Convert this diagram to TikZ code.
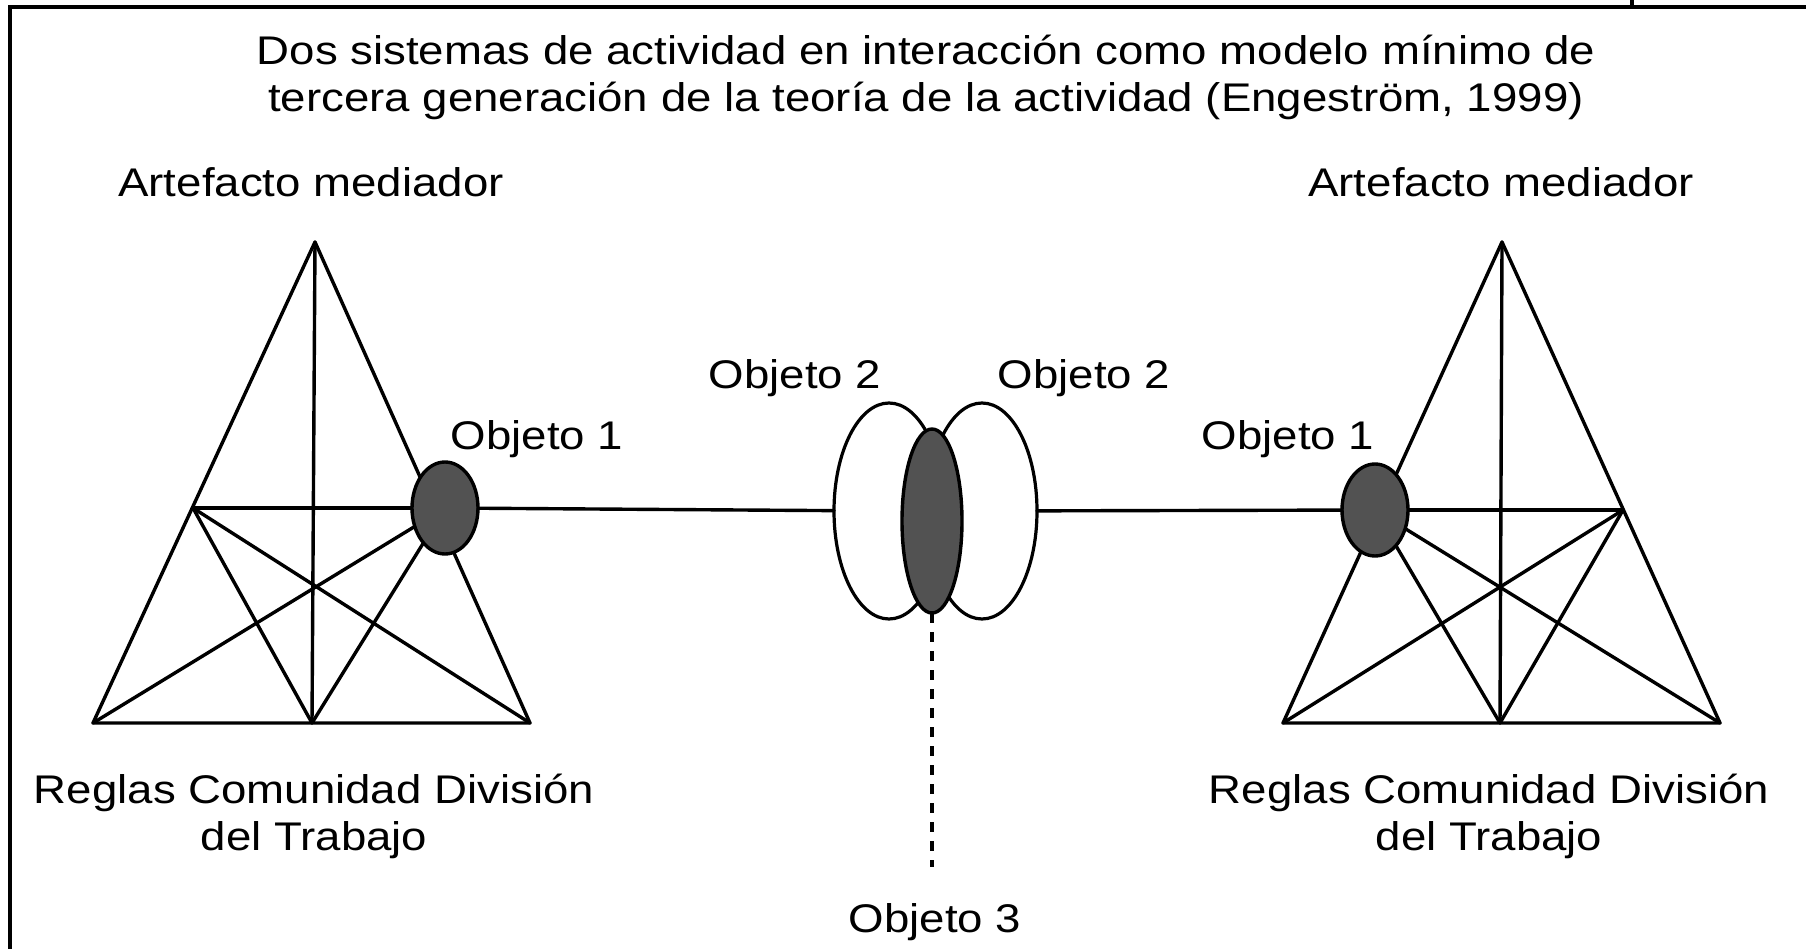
\documentclass[tikz,border=0pt]{standalone}
\usepackage{fontspec}
\setmainfont{Liberation Sans}[FakeStretch=1.14]
\usetikzlibrary{shapes.geometric}
\pgfdeclarelayer{bg}
\pgfdeclarelayer{paper}
\pgfsetlayers{paper,bg,main}
\begin{document}
\begin{tikzpicture}[x=1pt,y=-1pt,
  ln/.style={line width=3.4pt, line cap=round, line join=round},
  frame/.style={line width=3.4pt},
  lbl/.style={font=\fontsize{40}{47}\selectfont, inner sep=0pt, align=center},
  dark/.style={ellipse, draw, line width=3.4pt, fill=black!68, inner sep=0pt, outer sep=0pt},
  open/.style={ellipse, draw, line width=3.2pt, inner sep=0pt, outer sep=0pt}]
\useasboundingbox (0,0) rectangle (1806,949);
\begin{pgfonlayer}{paper}
  \fill[white] (0,0) rectangle (1806,949);
\end{pgfonlayer}

% frame
\coordinate (fbl) at (10,949);
\coordinate (ftl) at (10,7);
\coordinate (ftr) at (1806,7);
\draw[frame] (fbl) -- (ftl) -- (ftr);
\coordinate (tk1) at (1632,0);
\coordinate (tk2) at (1632,7);
\draw[frame] (tk1) -- (tk2);

% left triangle points
\coordinate (LA) at (315,242);
\coordinate (LBL) at (93,723);
\coordinate (LBR) at (530,723);
\coordinate (LBM) at (312,723);
\coordinate (LLM) at (193,508);
\node[dark, minimum width=66pt, minimum height=92pt] (LO) at (445,508) {};

% center ellipses
\node[open, minimum width=110pt, minimum height=216pt] (CL) at (889,511) {};
\node[open, minimum width=110pt, minimum height=216pt] (CR) at (982,511) {};
\node[dark, minimum width=60pt, minimum height=184pt] (CD) at (932,521) {};
\coordinate (dashend) at (932,867);

% right triangle points
\coordinate (RA) at (1502,242);
\coordinate (RBL) at (1283,723);
\coordinate (RBR) at (1720,723);
\coordinate (RBM) at (1500,723);
\coordinate (RRM) at (1623,510);
\node[dark, minimum width=66pt, minimum height=92pt] (RO) at (1375,510) {};

\begin{pgfonlayer}{bg}
  % left system
  \draw[ln] (LA) -- (LBL) -- (LBR) -- cycle;
  \draw[ln] (LA) -- (LBM);
  \draw[ln] (LLM) -- (LO.center);
  \draw[ln] (LLM) -- (LBM);
  \draw[ln] (LLM) -- (LBR);
  \draw[ln] (LO.center) -- (LBL);
  \draw[ln] (LO.center) -- (LBM);
  % right system
  \draw[ln] (RA) -- (RBL) -- (RBR) -- cycle;
  \draw[ln] (RA) -- (RBM);
  \draw[ln] (RRM) -- (RO.center);
  \draw[ln] (RRM) -- (RBM);
  \draw[ln] (RRM) -- (RBL);
  \draw[ln] (RO.center) -- (RBR);
  \draw[ln] (RO.center) -- (RBM);
\end{pgfonlayer}
% links to shared object
\draw[ln] (LO) -- (CL);
\draw[ln] (CR) -- (RO);
\draw[ln, line cap=butt, dash pattern=on 10pt off 9pt] (CD.south) -- (dashend);

% texts
\node[lbl, anchor=base] (title) at (926,112) {Dos sistemas de actividad en interacción como modelo mínimo de\\tercera generación de la teoría de la actividad (Engeström, 1999)};
\node[lbl, anchor=base] (amL) at (311,197) {Artefacto mediador};
\node[lbl, anchor=base] (amR) at (1501,197) {Artefacto mediador};
\node[lbl, anchor=base] (o1L) at (537,449) {Objeto 1};
\node[lbl, anchor=base] (o1R) at (1288,449) {Objeto 1};
\node[lbl, anchor=base] (o2L) at (795,388) {Objeto 2};
\node[lbl, anchor=base] (o2R) at (1084,388) {Objeto 2};
\node[lbl, anchor=base] (o3) at (935,932) {Objeto 3};
\node[lbl, anchor=base] (rgL) at (314,850) {Reglas Comunidad División\\del Trabajo};
\node[lbl, anchor=base] (rgR) at (1489,850) {Reglas Comunidad División\\del Trabajo};
\end{tikzpicture}
\end{document}
